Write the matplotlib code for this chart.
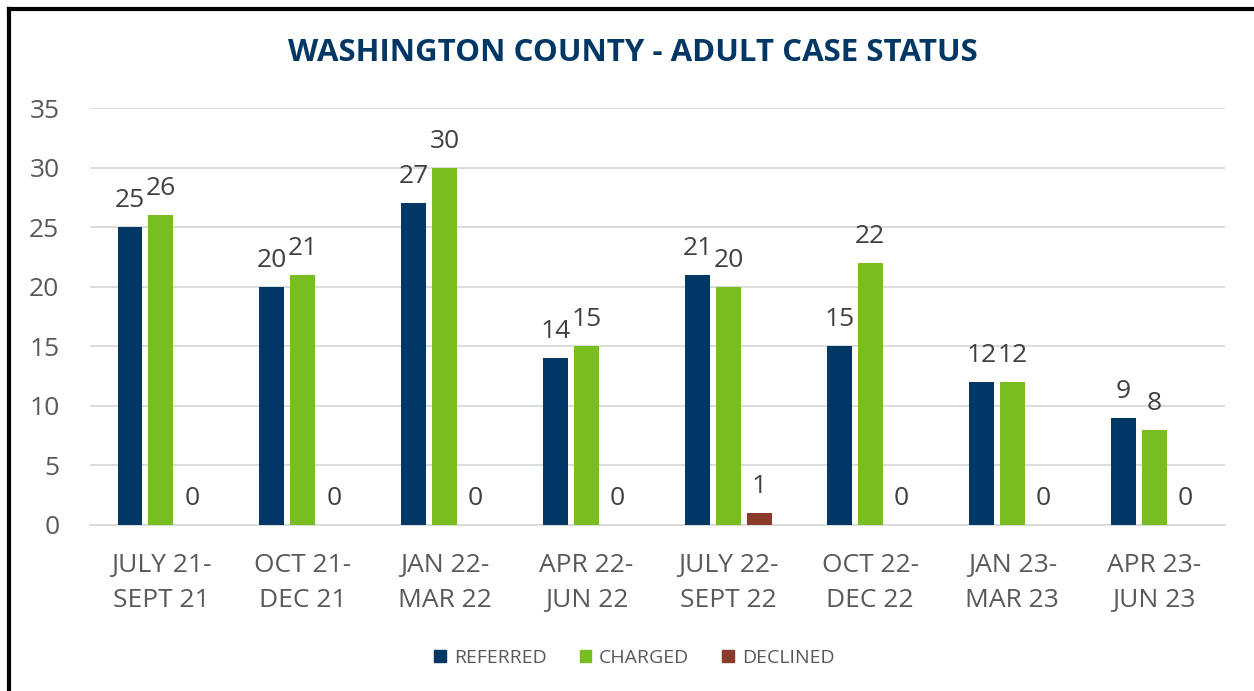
import numpy as np
import matplotlib.pyplot as plt
from matplotlib.lines import Line2D
from matplotlib.patches import Patch

periods = ["JULY 21-\nSEPT 21", "OCT 21-\nDEC 21", "JAN 22-\nMAR 22", "APR 22-\nJUN 22",
           "JULY 22-\nSEPT 22", "OCT 22-\nDEC 22", "JAN 23-\nMAR 23", "APR 23-\nJUN 23"]
referred = [25, 20, 27, 14, 21, 15, 12, 9]
charged = [26, 21, 30, 15, 20, 22, 12, 8]
declined = [0, 0, 0, 0, 1, 0, 0, 0]

plt.rcParams["font.family"] = ["Open Sans", "DejaVu Sans"]

fig = plt.figure(figsize=(12.54, 6.91), dpi=100)
ax = fig.add_axes([90 / 1254, 1 - 525 / 691, 1135 / 1254, 417 / 691])

x = np.arange(len(periods))
w = 0.176
step = 0.218
series = [("REFERRED", referred, "#003764"), ("CHARGED", charged, "#78BE21"),
          ("DECLINED", declined, "#8B3A2C")]
for i, (name, vals, col) in enumerate(series):
    bars = ax.bar(x + (i - 1) * step, vals, w, color=col, label=name, zorder=3)
    ax.bar_label(bars, labels=[str(v) for v in vals], padding=10,
                 fontsize=19, color="#404040")

ax.set_xlim(-0.5, len(periods) - 0.5)
ax.set_ylim(0, 35)
ax.set_yticks(range(0, 36, 5))
ax.yaxis.grid(True, color="#d9d9d9", linewidth=1.3, zorder=0)
ax.set_xticks(x)
ax.set_xticklabels(periods, fontsize=19, color="#595959", linespacing=1.55)
ax.tick_params(axis="y", labelsize=19, labelcolor="#595959", length=0, pad=22)
ax.tick_params(axis="x", length=0, pad=20)
for s in ["top", "right", "left"]:
    ax.spines[s].set_visible(False)
ax.spines["bottom"].set_color("#d9d9d9")
ax.spines["bottom"].set_linewidth(1.3)

fig.text(0.505, 0.923, "WASHINGTON COUNTY - ADULT CASE STATUS", ha="center", va="center",
         fontsize=22.5, fontweight="bold", color="#003764")

handles = [Patch(color=c) for _, _, c in series]
fig.legend(handles, [n for n, _, _ in series], loc="center", bbox_to_anchor=(0.506, 1 - 658 / 691),
           ncol=3, frameon=False, fontsize=14, labelcolor="#595959",
           handlelength=0.6, handleheight=0.6, columnspacing=1.7, handletextpad=0.4)

# frame lines on the top and left of the picture
fig.add_artist(Line2D([9 / 1254, 9 / 1254], [0, 1 - 9 / 691], color="black", linewidth=3))
fig.add_artist(Line2D([9 / 1254, 1], [1 - 9 / 691, 1 - 9 / 691], color="black", linewidth=3))

fig.savefig("out.png", dpi=100)
